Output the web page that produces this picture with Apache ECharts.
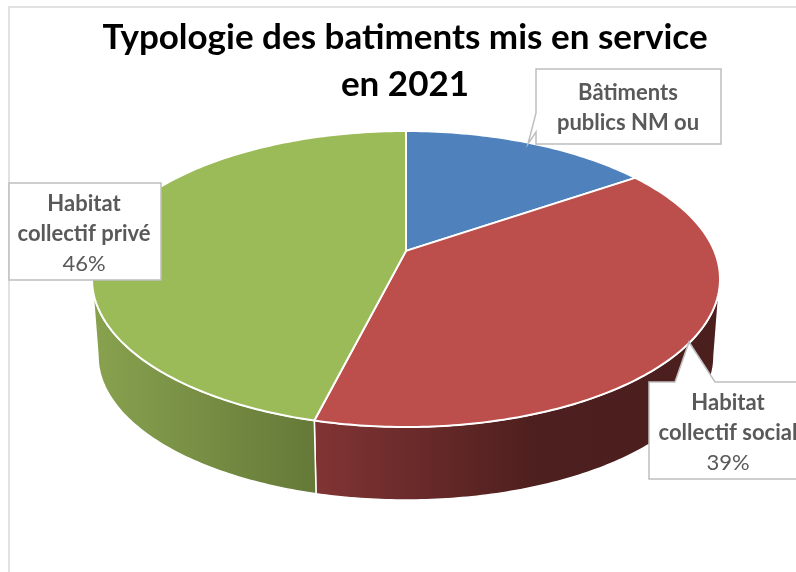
<!DOCTYPE html>
<html><head><meta charset="utf-8">
<style>html,body{margin:0;padding:0;background:#fff}#c{width:796px;height:572px}</style>
<script src="https://cdn.jsdelivr.net/npm/echarts@6/dist/echarts.min.js"></script>
</head><body><div id="c"></div>
<script>
const titleText = 'Typologie des batiments mis en service\nen 2021';
const categories = ['Bâtiments publics NM ou', 'Habitat collectif social', 'Habitat collectif privé'];
const values = [15.4, 38.5, 46.1];
const labelLines = [['Bâtiments', 'publics NM ou'], ['Habitat', 'collectif social'], ['Habitat', 'collectif privé']];
const showPercent = [false, true, true];
const topColors = ['#4F81BD', '#BC4E4B', '#9BBB59'];
const wallStops = [
  [[0, '#4F81BD'], [1, '#3A5F8C']],
  [[0, '#823434'], [0.55, '#4D1F1E'], [1, '#4B1F1E']],
  [[0, '#88A24F'], [1, '#657938']]
];

const TOP = {cx: 406, cy: 279, rx: 314, ry: 148};
const BOT = {cx: 406, cy: 356, rx: 308, ry: 144};
const TILT = -0.19;  // perspective shift of the pie centre

const total = values.reduce((a, b) => a + b, 0);
function phiOf(frac) {
  const a = frac * 2 * Math.PI, u = Math.sin(a), v = -Math.cos(a);
  const d = 1 + TILT * v;
  return Math.atan2((v + TILT) / d, u * Math.sqrt(1 - TILT * TILT) / d);
}
function sliceRange(i) {
  let before = 0;
  for (let k = 0; k < i; k++) before += values[k];
  const f0 = before / total, f1 = (before + values[i]) / total;
  let p0 = phiOf(f0), p1 = phiOf(f1);
  while (p1 <= p0) p1 += 2 * Math.PI;
  return [p0, p1];
}
function arc(e, p0, p1) {
  const n = Math.max(2, Math.ceil(Math.abs(p1 - p0) * 60)), pts = [];
  for (let i = 0; i <= n; i++) {
    const p = p0 + (p1 - p0) * i / n;
    pts.push([e.cx + e.rx * Math.cos(p), e.cy + e.ry * Math.sin(p)]);
  }
  return pts;
}

const callouts = [
  {box: [[536,69],[721,69],[721,144],[536,144],[536,132],[528,144],[536,113]], tx: 628, ty: 78},
  {box: [[649,382],[675,382],[689,342],[715,382],[805,382],[805,479],[649,479]], tx: 728, ty: 388},
  {box: [[9,183],[161,183],[161,280],[9,280]], tx: 84, ty: 189}
];

const fontFam = 'Lato, "Open Sans", sans-serif';
const itemData = values.map((v, i) => ({value: [i, v], name: categories[i]}));

const option = {
  animation: false,
  backgroundColor: '#fff',
  title: {
    text: titleText, left: 400, top: 9, textAlign: 'center',
    textStyle: {fontFamily: fontFam, fontWeight: 'bold', fontSize: 35, lineHeight: 47, color: '#000'}
  },
  graphic: [{
    type: 'polyline', silent: true, z: 0,
    shape: {points: [[9, 572], [9, 7], [796, 7]]},
    style: {stroke: '#D9D9D9', lineWidth: 1.5, fill: null}
  }],
  series: [
    {
      type: 'custom', coordinateSystem: 'none', z: 2, silent: true, data: itemData,
      renderItem(params, api) {
        const i = api.value(0), [p0, p1] = sliceRange(i);
        const children = [];
        for (const off of [0, 2 * Math.PI]) {
          const a = Math.max(p0, off), b = Math.min(p1, off + Math.PI);
          if (b > a) {
            const pts = arc(TOP, a, b).concat(arc(BOT, b, a));
            children.push({
              type: 'polygon', shape: {points: pts},
              style: {
                fill: new echarts.graphic.LinearGradient(0, 0, 1, 0,
                  wallStops[i].map(s => ({offset: s[0], color: s[1]}))),
                stroke: '#fff', lineWidth: 1.5, lineJoin: 'round'
              }
            });
          }
        }
        return {type: 'group', children};
      }
    },
    {
      type: 'custom', coordinateSystem: 'none', z: 3, silent: true, data: itemData,
      renderItem(params, api) {
        const i = api.value(0), [p0, p1] = sliceRange(i);
        const apex = [TOP.cx, TOP.cy + TILT * TOP.ry];
        return {
          type: 'polygon',
          shape: {points: [apex].concat(arc(TOP, p0, p1))},
          style: {fill: topColors[i], stroke: '#fff', lineWidth: 2, lineJoin: 'round'}
        };
      }
    },
    {
      type: 'custom', coordinateSystem: 'none', z: 4, silent: true, data: itemData,
      renderItem(params, api) {
        const i = api.value(0), c = callouts[i];
        const pct = Math.round(api.value(1) / total * 100) + '%';
        const lines = labelLines[i].map(s => '{b|' + s + '}');
        if (showPercent[i]) lines.push('{n|' + pct + '}');
        return {
          type: 'group',
          children: [
            {type: 'polygon', shape: {points: c.box},
             style: {fill: '#fff', stroke: '#BFBFBF', lineWidth: 1.5}},
            {type: 'text', x: c.tx, y: c.ty,
             style: {
               text: lines.join('\n'), align: 'center', verticalAlign: 'top',
               rich: {
                 b: {fontFamily: fontFam, fontWeight: 'bold', fontSize: 22, lineHeight: 30, fill: '#595959', color: '#595959', align: 'center'},
                 n: {fontFamily: fontFam, fontSize: 22, lineHeight: 30, fill: '#595959', color: '#595959', align: 'center'}
               }
             }}
          ]
        };
      }
    }
  ]
};
const chart = echarts.init(document.getElementById('c'), null, {renderer: 'canvas'});
chart.setOption(option);
</script></body></html>
